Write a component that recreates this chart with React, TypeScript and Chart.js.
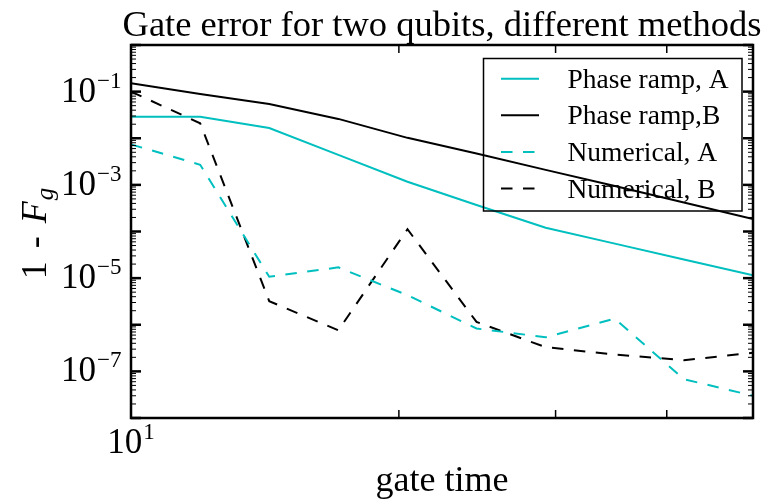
import React, { useEffect, useRef } from 'react';
import { Chart, registerables } from 'chart.js';

Chart.register(...registerables);

// Gate durations (log-spaced) and the gate error 1 - F_g for each method
const gateTimes = [10, 11.96, 14.3, 17.1, 20.45, 24.45, 29.24, 34.97, 41.81, 50];
const phaseRampA = [2.9e-2, 2.9e-2, 1.66e-2, 4.4e-3, 1.17e-3, 3.7e-4, 1.2e-4, 5.5e-5, 2.5e-5, 1.15e-5];
const phaseRampB = [1.51e-1, 8.9e-2, 5.4e-2, 2.6e-2, 1.02e-2, 4.7e-3, 2.1e-3, 9.5e-4, 4.2e-4, 1.86e-4];
const numericalA = [7.4e-3, 2.7e-3, 1.07e-5, 1.7e-5, 4.3e-6, 8.3e-7, 5.4e-7, 1.35e-6, 6.8e-8, 3.0e-8];
const numericalB = [1.0e-1, 2.1e-2, 3.2e-6, 7.6e-7, 1.12e-4, 1.15e-6, 3.3e-7, 2.3e-7, 1.74e-7, 2.5e-7];

const seriesLabels = ['Phase ramp, A', 'Phase ramp,B', 'Numerical, A', 'Numerical, B'];

// Axis ranges and tick labels
const xRange = [10, 50];
const yRange = [1e-8, 1];
const xLabelExponents = [1];
const yLabelExponents = [-1, -3, -5, -7];
const xMinorTicks = [20, 30, 40];

const titleText = 'Gate error for two qubits, different methods';
const xTitle = 'gate time';

const CYAN = '#00bfbf';
const SERIF = '"Liberation Serif", "Times New Roman", serif';

function line(ctx: CanvasRenderingContext2D, x1: number, y1: number, x2: number, y2: number) {
  ctx.beginPath();
  ctx.moveTo(x1, y1);
  ctx.lineTo(x2, y2);
  ctx.stroke();
}

const decorPlugin = {
  id: 'decor',
  afterDatasetsDraw(chart: any) {
    const { ctx, chartArea: a, scales } = chart;
    const xs = scales.x;
    const ys = scales.y;
    ctx.save();
    ctx.strokeStyle = '#000';
    ctx.fillStyle = '#000';
    ctx.setLineDash([]);

    // y ticks (major each decade, minor 2..9), inward on both sides
    const eMin = Math.round(Math.log10(yRange[0]));
    const eMax = Math.round(Math.log10(yRange[1]));
    for (let e = eMin; e <= eMax; e++) {
      const y = ys.getPixelForValue(Math.pow(10, e));
      ctx.lineWidth = 2.5;
      line(ctx, a.left, y, a.left + 10, y);
      line(ctx, a.right, y, a.right - 10, y);
      if (e < eMax) {
        ctx.lineWidth = 1;
        for (let k = 2; k <= 9; k++) {
          const y2 = ys.getPixelForValue(k * Math.pow(10, e));
          line(ctx, a.left, y2, a.left + 5, y2);
          line(ctx, a.right, y2, a.right - 5, y2);
        }
      }
    }

    // x minor ticks, top and bottom
    ctx.lineWidth = 1.5;
    for (const v of xMinorTicks) {
      const x = xs.getPixelForValue(v);
      line(ctx, x, a.bottom, x, a.bottom - 8);
      line(ctx, x, a.top, x, a.top + 8);
    }

    // frame
    ctx.lineWidth = 2.5;
    ctx.strokeRect(a.left, a.top, a.right - a.left, a.bottom - a.top);

    // y tick labels: 10^e
    ctx.textBaseline = 'alphabetic';
    for (const e of yLabelExponents) {
      const y = ys.getPixelForValue(Math.pow(10, e));
      const exp = '\u2212' + String(Math.abs(e));
      ctx.font = `23px ${SERIF}`;
      ctx.textAlign = 'right';
      const right = a.left - 9.5;
      const we = ctx.measureText(exp).width;
      ctx.fillText(exp, right, y - 4);
      ctx.font = `35px ${SERIF}`;
      ctx.fillText('10', right - we - 1, y + 10);
    }

    // x tick labels
    for (const e of xLabelExponents) {
      const x = xs.getPixelForValue(Math.pow(10, e));
      const exp = String(e);
      ctx.font = `35px ${SERIF}`;
      const wb = ctx.measureText('10').width;
      ctx.font = `23px ${SERIF}`;
      const we = ctx.measureText(exp).width;
      const start = x - (wb + we + 1) / 2;
      ctx.textAlign = 'left';
      ctx.font = `35px ${SERIF}`;
      ctx.fillText('10', start, a.bottom + 35);
      ctx.font = `23px ${SERIF}`;
      ctx.fillText(exp, start + wb + 1, a.bottom + 21);
    }

    // x axis title
    ctx.textAlign = 'center';
    ctx.font = `36px ${SERIF}`;
    ctx.fillText(xTitle, (a.left + a.right) / 2, 491);

    // y axis title: 1 - F_g, with math-style spacing around the dash
    ctx.save();
    ctx.translate(46, (a.top + a.bottom) / 2 + 2);
    ctx.rotate(-Math.PI / 2);
    ctx.textAlign = 'left';
    const gap = 13;
    ctx.font = `36px ${SERIF}`;
    const wOne = ctx.measureText('1').width;
    const wDash = ctx.measureText('-').width;
    ctx.font = `italic 36px ${SERIF}`;
    const wF = ctx.measureText('F').width;
    ctx.font = `italic 25px ${SERIF}`;
    const wg = ctx.measureText('g').width;
    const total = wOne + gap + wDash + gap + wF + 1 + wg;
    let cx = -total / 2;
    ctx.font = `36px ${SERIF}`;
    ctx.fillText('1', cx, 0);
    cx += wOne + gap;
    ctx.fillText('-', cx, 0);
    cx += wDash + gap;
    ctx.font = `italic 36px ${SERIF}`;
    ctx.fillText('F', cx, 0);
    cx += wF + 1;
    ctx.font = `italic 25px ${SERIF}`;
    ctx.fillText('g', cx, 7);
    ctx.restore();

    // title
    ctx.textAlign = 'center';
    ctx.font = `36.5px ${SERIF}`;
    ctx.fillText(titleText, 442, 36);

    // legend (no fill, framed)
    ctx.lineWidth = 1.5;
    ctx.strokeRect(483.5, 58.5, 258.5, 152.5);
    chart.data.datasets.forEach((ds: any, i: number) => {
      const base = 87.7 + i * 36.6;
      ctx.strokeStyle = ds.borderColor;
      ctx.lineWidth = 2;
      ctx.setLineDash(ds.borderDash || []);
      line(ctx, 501, base - 9, 539, base - 9);
      ctx.setLineDash([]);
      ctx.fillStyle = '#000';
      ctx.textAlign = 'left';
      ctx.font = `27.5px ${SERIF}`;
      ctx.fillText(ds.label, 567.5, base);
    });

    ctx.restore();
  },
};

function toPoints(values: number[]) {
  return gateTimes.map((t, i) => ({ x: t, y: values[i] }));
}

export default function App() {
  const canvasRef = useRef<HTMLCanvasElement | null>(null);

  useEffect(() => {
    const canvas = canvasRef.current;
    if (!canvas) return;
    const dash = [11.5, 10.5];
    const chart = new Chart(canvas, {
      type: 'line',
      data: {
        datasets: [
          { label: seriesLabels[0], data: toPoints(phaseRampA), borderColor: CYAN, borderWidth: 2, pointRadius: 0, fill: false, tension: 0 },
          { label: seriesLabels[1], data: toPoints(phaseRampB), borderColor: '#000', borderWidth: 2, pointRadius: 0, fill: false, tension: 0 },
          { label: seriesLabels[2], data: toPoints(numericalA), borderColor: CYAN, borderWidth: 2, borderDash: dash, pointRadius: 0, fill: false, tension: 0 },
          { label: seriesLabels[3], data: toPoints(numericalB), borderColor: '#000', borderWidth: 2, borderDash: dash, pointRadius: 0, fill: false, tension: 0 },
        ],
      },
      options: {
        responsive: false,
        animation: false,
        events: [],
        layout: { padding: { left: 131, top: 45, right: 13, bottom: 81 } },
        scales: {
          x: { type: 'logarithmic', display: false, min: xRange[0], max: xRange[1] },
          y: { type: 'logarithmic', display: false, min: yRange[0], max: yRange[1] },
        },
        plugins: {
          legend: { display: false },
          tooltip: { enabled: false },
          title: { display: false },
        },
      },
      plugins: [decorPlugin],
    });
    return () => chart.destroy();
  }, []);

  return (
    <div style={{ position: 'absolute', left: 0, top: 0, width: 766, height: 499, background: '#fff' }}>
      <canvas ref={canvasRef} width={766} height={499} />
    </div>
  );
}
